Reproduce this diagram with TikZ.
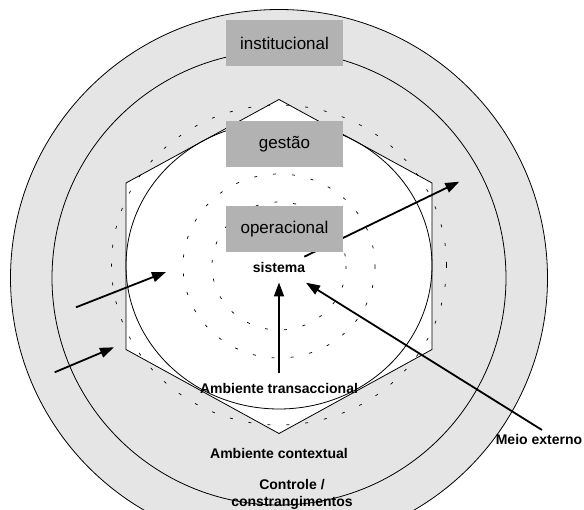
\documentclass[tikz,border=0pt]{standalone}
\usepackage{fontspec}
\setmainfont{Liberation Sans}
\usetikzlibrary{arrows.meta,positioning}

\definecolor{anel}{gray}{0.9}
\definecolor{caixa}{gray}{0.7}

\tikzset{
  nivel/.style={fill=caixa, minimum width=117pt, minimum height=46pt,
    inner sep=0pt, font=\fontsize{17}{20}\selectfont},
  rotulo/.style={font=\fontsize{14}{16.5}\selectfont\bfseries, inner sep=1pt},
  seta/.style={line width=1.8pt, -{Triangle[length=14pt,width=10pt]}},
  pontilhado/.style={dash pattern=on 3pt off 16pt, line width=0.7pt},
  traco/.style={line width=0.8pt}
}

\begin{document}
\begin{tikzpicture}[x=1pt,y=-1pt]
  % Definitions
  \pgfmathsetmacro{\cx}{279}
  \pgfmathsetmacro{\R}{268.5}
  \pgfmathsetmacro{\r}{227}

  \useasboundingbox (0,0) rectangle (584,510);
  \clip (0,0) rectangle (584,510);

  % outer rings
  \filldraw[traco, fill=anel] (\cx,278) circle (\R);
  \draw[traco] (\cx,278) circle (\r);

  % hexagon and inner ellipse
  \filldraw[traco, fill=white] (\cx,99.5) -- (432,183) -- (432,349.5)
    -- (\cx,433.5) -- (126,349.5) -- (126,183) -- cycle;
  \draw[traco] (\cx,265.5) ellipse [x radius=153, y radius=143.5];

  % dashed rings
  \draw[pontilhado] (\cx,265) ellipse [x radius=167.5, y radius=160];
  \draw[pontilhado] (\cx,266) ellipse [x radius=96, y radius=92];
  \draw[pontilhado] (\cx,266) ellipse [x radius=67, y radius=64];

  % arrow ends
  \coordinate (ent1a) at (76,307.3);
  \coordinate (ent1b) at (166,272);
  \coordinate (ent2a) at (54.7,372.3);
  \coordinate (ent2b) at (114,347.3);
  \coordinate (saia) at (304.3,256.7);
  \coordinate (saib) at (459.3,181.7);
  \coordinate (meioa) at (542,430);
  \coordinate (meiob) at (306,282.7);
  \coordinate (transa) at (\cx,373);
  \coordinate (transb) at (\cx,282.5);

  % outgoing arrow (under the box)
  \draw[seta] (saia) -- (saib);

  % levels
  \node[nivel] (inst) at (284.5,43) {institucional};
  \node[nivel] (gest) at (284.5,144) {gestão};
  \node[nivel] (oper) at (284.5,229) {operacional};

  % labels
  \node[rotulo] (sist) at (\cx,267) {sistema};
  \node[rotulo] (trans) at (\cx,388) {Ambiente transaccional};
  \node[rotulo] (cont) at (\cx,453.3) {Ambiente contextual};
  \node[rotulo, align=center] (ctrl) at (292,494.5) {Controle /\\constrangimentos};
  \node[rotulo] (meio) at (539,439) {Meio externo};

  % arrows
  \draw[seta] (ent1a) -- (ent1b);
  \draw[seta] (ent2a) -- (ent2b);
  \draw[seta] (transa) -- (transb);
  \draw[seta] (meioa) -- (meiob);
\end{tikzpicture}
\end{document}
